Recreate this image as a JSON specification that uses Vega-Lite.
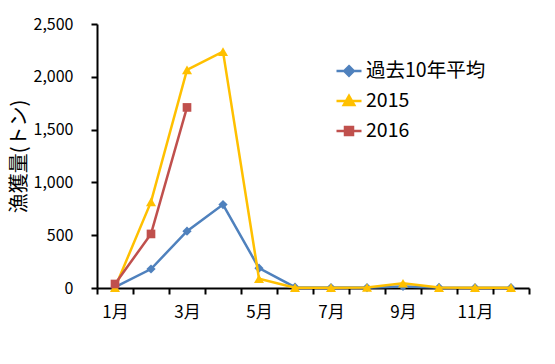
{
  "$schema": "https://vega.github.io/schema/vega-lite/v6.json",
  "width": 432,
  "height": 264,
  "autosize": {"type": "none"},
  "padding": {"left": 97, "top": 24, "right": 26, "bottom": 76},
  "background": "white",
  "config": {
    "view": {"stroke": null},
    "font": "Noto Sans CJK JP",
    "axis": {"domainColor": "black", "tickColor": "black", "labelColor": "black", "domainWidth": 2, "tickWidth": 2, "grid": false, "labelFont": "Noto Sans CJK JP", "labelFontSize": 16, "titleColor": "black"}
  },
  "data": {"values": [
    {"series": "過去10年平均", "month": 1, "value": 8},
    {"series": "過去10年平均", "month": 2, "value": 180},
    {"series": "過去10年平均", "month": 3, "value": 538},
    {"series": "過去10年平均", "month": 4, "value": 790},
    {"series": "過去10年平均", "month": 5, "value": 188},
    {"series": "過去10年平均", "month": 6, "value": 8},
    {"series": "過去10年平均", "month": 7, "value": 4},
    {"series": "過去10年平均", "month": 8, "value": 4},
    {"series": "過去10年平均", "month": 9, "value": 15},
    {"series": "過去10年平均", "month": 10, "value": 5},
    {"series": "過去10年平均", "month": 11, "value": 3},
    {"series": "過去10年平均", "month": 12, "value": 3},
    {"series": "2015", "month": 1, "value": 3},
    {"series": "2015", "month": 2, "value": 815},
    {"series": "2015", "month": 3, "value": 2065},
    {"series": "2015", "month": 4, "value": 2238},
    {"series": "2015", "month": 5, "value": 88},
    {"series": "2015", "month": 6, "value": 3},
    {"series": "2015", "month": 7, "value": 3},
    {"series": "2015", "month": 8, "value": 5},
    {"series": "2015", "month": 9, "value": 45},
    {"series": "2015", "month": 10, "value": 4},
    {"series": "2015", "month": 11, "value": 3},
    {"series": "2015", "month": 12, "value": 3},
    {"series": "2016", "month": 1, "value": 38},
    {"series": "2016", "month": 2, "value": 512},
    {"series": "2016", "month": 3, "value": 1710}
  ]},
  "encoding": {
    "x": {"field": "month", "type": "quantitative",
      "scale": {"domain": [0.5, 12.5], "nice": false, "zero": false},
      "axis": {"title": null, "values": [0.5,1.5,2.5,3.5,4.5,5.5,6.5,7.5,8.5,9.5,10.5,11.5,12.5],
        "labelExpr": "datum.value % 2 == 0.5 && datum.value < 12 ? (datum.value + 0.5) + '月' : ''",
        "labelOffset": 18, "tickSize": 6, "labelPadding": 10, "labelFlush": false, "labelOverlap": false, "labelFontSize": 17}},
    "y": {"field": "value", "type": "quantitative",
      "scale": {"domain": [0, 2500], "nice": false},
      "axis": {"title": "漁獲量(トン)", "values": [0, 500, 1000, 1500, 2000, 2500], "format": ",d", "tickSize": 6, "labelPadding": 18, "titleFontSize": 20, "titleFontWeight": "normal", "titleFont": "Noto Sans CJK JP", "titlePadding": 4}},
    "color": {"field": "series", "type": "nominal",
      "scale": {"domain": ["過去10年平均", "2015", "2016"], "range": ["#4F81BD", "#FFC000", "#C0504D"]},
      "legend": {"title": null, "orient": "none", "legendX": 238, "legendY": 33, "padding": 0,
        "labelFontSize": 19.5, "labelFont": "Noto Sans CJK JP", "labelColor": "black", "labelOffset": 3,
        "symbolSize": 625, "symbolStrokeWidth": 2.5, "rowPadding": 6,
        "encode": {"symbols": {"update": {
          "shape": {"signal": "datum.value == '2015' ? 'M-1,0H1M0,-0.42L0.42,0.32L-0.42,0.32Z' : datum.value == '2016' ? 'M-1,0H1M-0.32,-0.32H0.32V0.32H-0.32Z' : 'M-1,0H1M0,-0.38L0.38,0L0,0.38L-0.38,0Z'"},
          "fill": {"scale": "color", "field": "value"},
          "stroke": {"scale": "color", "field": "value"},
          "strokeWidth": {"value": 2.5},
          "opacity": {"value": 1}
        }}}}}
  },
  "layer": [
    {"transform": [{"filter": "datum.series == '過去10年平均'"}], "mark": {"type": "line", "strokeWidth": 2.5}},
    {"transform": [{"filter": "datum.series == '過去10年平均'"}], "mark": {"type": "point", "shape": "diamond", "filled": true, "size": 85, "opacity": 1}},
    {"transform": [{"filter": "datum.series == '2015'"}], "mark": {"type": "line", "strokeWidth": 2.5}},
    {"transform": [{"filter": "datum.series == '2015'"}], "mark": {"type": "point", "shape": "triangle-up", "filled": true, "size": 100, "opacity": 1}},
    {"transform": [{"filter": "datum.series == '2016'"}], "mark": {"type": "line", "strokeWidth": 2.5}},
    {"transform": [{"filter": "datum.series == '2016'"}], "mark": {"type": "point", "shape": "square", "filled": true, "size": 75, "opacity": 1}}
  ]
}
